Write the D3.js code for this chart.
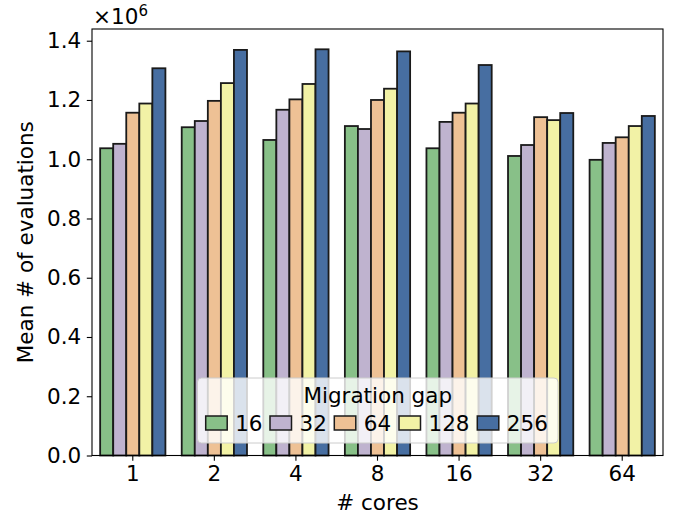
<!DOCTYPE html>
<html>
<head>
<meta charset="utf-8">
<script src="https://cdn.jsdelivr.net/npm/d3@7"></script>
<style>
  html, body { margin: 0; padding: 0; background: #fff; }
  svg text { font-family: "DejaVu Sans", sans-serif; fill: #000; }
</style>
</head>
<body>
<svg id="chart" width="685" height="520"></svg>
<script>
// Core counts along the x axis
const cores = ["1", "2", "4", "8", "16", "32", "64"];
// Migration gaps (one bar per gap inside each core group)
const gaps = ["16", "32", "64", "128", "256"];
// Mean number of evaluations (×10^6), one array per migration gap, indexed by core count
const gap16  = [1.037, 1.108, 1.065, 1.112, 1.037, 1.011, 0.998];
const gap32  = [1.052, 1.129, 1.167, 1.102, 1.126, 1.048, 1.055];
const gap64  = [1.157, 1.197, 1.202, 1.200, 1.157, 1.142, 1.074];
const gap128 = [1.188, 1.257, 1.254, 1.238, 1.188, 1.132, 1.112];
const gap256 = [1.307, 1.369, 1.371, 1.364, 1.318, 1.156, 1.146];
const yTicks = [0.0, 0.2, 0.4, 0.6, 0.8, 1.0, 1.2, 1.4];
const colors = ["#88c088", "#bfb3cf", "#eec195", "#f2f2a6", "#476ea1"];

const series = [gap16, gap32, gap64, gap128, gap256];

const svg = d3.select("#chart");
const plotL = 92, plotR = 663, plotT = 29, plotB = 455.5;
const FS = 21.5;

const x = d3.scaleBand().domain(cores).range([plotL, plotR]).paddingInner(0).paddingOuter(0);
const groupW = x.bandwidth() * 0.8;
const xi = d3.scaleBand().domain(gaps).range([0, groupW]).padding(0);

const yMax = 1.371 * 1.05;
const y = d3.scaleLinear().domain([0, yMax]).range([plotB, plotT]);

// Bars
const rows = [];
cores.forEach((c, ci) => {
  gaps.forEach((g, gi) => rows.push({ core: c, gap: g, gi, v: series[gi][ci] }));
});
svg.append("g").selectAll("rect").data(rows).join("rect")
  .attr("x", d => x(d.core) + (x.bandwidth() - groupW) / 2 + xi(d.gap))
  .attr("y", d => y(d.v))
  .attr("width", xi.bandwidth())
  .attr("height", d => y(0) - y(d.v))
  .attr("fill", d => colors[d.gi])
  .attr("stroke", "#1a1a1a")
  .attr("stroke-width", 1.8);

// Axes
const yAxis = d3.axisLeft(y).tickValues(yTicks).tickFormat(d3.format(".1f"))
  .tickSize(5.2).tickPadding(5.5);
const gy = svg.append("g").attr("transform", `translate(${plotL},0)`).call(yAxis);
gy.select(".domain").remove();
gy.selectAll("line").attr("stroke", "#000").attr("stroke-width", 1.1);
gy.selectAll("text").attr("font-size", FS).attr("fill", "#000");

const xAxis = d3.axisBottom(x).tickSize(5.2).tickPadding(5.5);
const gx = svg.append("g").attr("transform", `translate(0,${plotB})`).call(xAxis);
gx.select(".domain").remove();
gx.selectAll("line").attr("stroke", "#000").attr("stroke-width", 1.1);
gx.selectAll("text").attr("font-size", FS).attr("fill", "#000");

// Frame
svg.append("rect").attr("x", plotL).attr("y", plotT)
  .attr("width", plotR - plotL).attr("height", plotB - plotT)
  .attr("fill", "none").attr("stroke", "#000").attr("stroke-width", 1.1);

// Offset label
const off = svg.append("text").attr("x", 93).attr("y", 24).attr("font-size", FS);
off.append("tspan").text("×10");
off.append("tspan").attr("dy", -8.5).attr("font-size", 15).text("6");

// Axis titles
svg.append("text").attr("x", (plotL + plotR) / 2).attr("y", 510)
  .attr("text-anchor", "middle").attr("font-size", FS).text("# cores");
svg.append("text")
  .attr("transform", `translate(33,${(plotT + plotB) / 2}) rotate(-90)`)
  .attr("text-anchor", "middle").attr("font-size", FS).text("Mean # of evaluations");

// Legend
const lg = svg.append("g");
lg.append("rect").attr("x", 197.5).attr("y", 378).attr("width", 360.5).attr("height", 65)
  .attr("rx", 4).attr("fill", "#fff").attr("fill-opacity", 0.8)
  .attr("stroke", "#cccccc").attr("stroke-width", 1);
lg.append("text").attr("x", (197.5 + 558) / 2).attr("y", 403)
  .attr("text-anchor", "middle").attr("font-size", FS).text("Migration gap");
const entryX = [205.7, 270, 334.3, 399, 477.3];
gaps.forEach((g, i) => {
  lg.append("rect").attr("x", entryX[i]).attr("y", 416).attr("width", 21.5).attr("height", 14)
    .attr("fill", colors[i]).attr("stroke", "#1a1a1a").attr("stroke-width", 1.5);
  lg.append("text").attr("x", entryX[i] + 29.5).attr("y", 431).attr("font-size", FS).text(g);
});
</script>
</body>
</html>
